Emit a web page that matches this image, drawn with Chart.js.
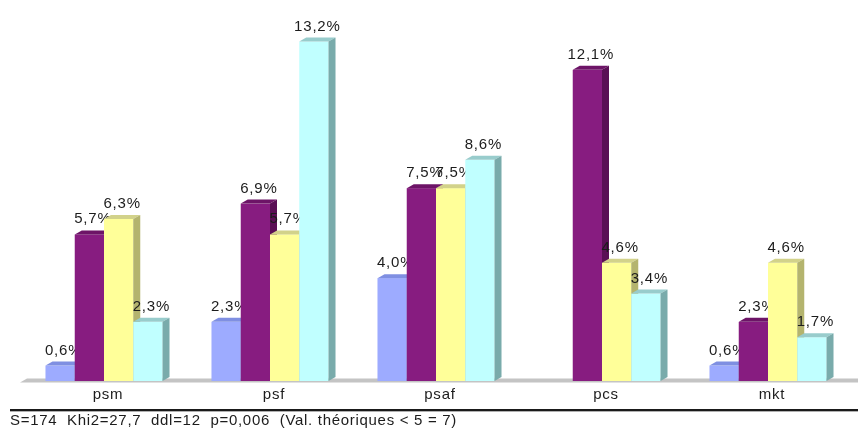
<!DOCTYPE html>
<html>
<head>
<meta charset="utf-8">
<script src="https://cdn.jsdelivr.net/npm/chart.js@4/dist/chart.umd.min.js"></script>
<style>
  html, body { margin: 0; padding: 0; background: #ffffff; }
  #wrap { width: 858px; height: 430px; position: relative; }
</style>
</head>
<body>
<div id="wrap"><canvas id="c" width="858" height="430"></canvas></div>
<script>
// Categories and the four series (percentages)
const categories = ['psm', 'psf', 'psaf', 'pcs', 'mkt'];
const serie1 = [0.6, 2.3, 4.0, 0, 0.6];
const serie2 = [5.7, 6.9, 7.5, 12.1, 2.3];
const serie3 = [6.3, 5.7, 7.5, 4.6, 4.6];
const serie4 = [2.3, 13.2, 8.6, 3.4, 1.7];
const footerText = 'S=174  Khi2=27,7  ddl=12  p=0,006  (Val. théoriques < 5 = 7)';

// Face colours for each series: front, top, side
const palette = [
  { front: '#9dabff', top: '#7f8fe2', side: '#6f7fc4' },
  { front: '#871c80', top: '#6d1467', side: '#5a0f55' },
  { front: '#ffff99', top: '#d2d28a', side: '#b4b46e' },
  { front: '#c0ffff', top: '#98cccc', side: '#79abab' }
];
const DX = 7, DY = 4;
const FONT = '"Liberation Sans", Arial, sans-serif';

const fmt = v => v.toFixed(1).replace('.', ',') + '%';

const bars3d = {
  id: 'bars3d',
  beforeDraw(chart) {
    chart.ctx.letterSpacing = '0.8px';
  },
  beforeDatasetsDraw(chart) {
    const { ctx, chartArea } = chart;
    const yb = chart.scales.y.getPixelForValue(0);
    // floor band
    ctx.save();
    ctx.fillStyle = '#c4c4c4';
    ctx.beginPath();
    ctx.moveTo(chartArea.left - 1, yb + 1.5);
    ctx.lineTo(chartArea.left - 1 + DX, yb + 1.5 - DY);
    ctx.lineTo(chart.width, yb + 1.5 - DY);
    ctx.lineTo(chart.width, yb + 1.5);
    ctx.closePath();
    ctx.fill();
    ctx.restore();
  },
  afterDatasetsDraw(chart) {
    const ctx = chart.ctx;
    ctx.save();
    ctx.font = '15px ' + FONT;
    ctx.letterSpacing = '0.8px';
    ctx.textAlign = 'center';
    ctx.textBaseline = 'alphabetic';
    for (let i = 0; i < categories.length; i++) {
      chart.data.datasets.forEach((ds, d) => {
        const v = ds.data[i];
        if (!v) return;
        const el = chart.getDatasetMeta(d).data[i];
        const x0 = el.x - el.width / 2, x1 = el.x + el.width / 2;
        const yt = el.y, yb = el.base;
        const c = palette[d];
        // front face
        ctx.fillStyle = c.front;
        ctx.fillRect(x0, yt, x1 - x0, yb - yt);
        // top face
        ctx.fillStyle = c.top;
        ctx.beginPath();
        ctx.moveTo(x0, yt);
        ctx.lineTo(x0 + DX, yt - DY);
        ctx.lineTo(x1 + DX, yt - DY);
        ctx.lineTo(x1, yt);
        ctx.closePath();
        ctx.fill();
        // side face
        ctx.fillStyle = c.side;
        ctx.beginPath();
        ctx.moveTo(x1, yt);
        ctx.lineTo(x1 + DX, yt - DY);
        ctx.lineTo(x1 + DX, yb - DY);
        ctx.lineTo(x1, yb);
        ctx.closePath();
        ctx.fill();
        // value label
        ctx.fillStyle = '#1c1c1c';
        ctx.fillText(fmt(v), el.x + DX / 2, yt - 11);
      });
    }
    ctx.restore();
  },
  afterDraw(chart) {
    const ctx = chart.ctx;
    ctx.save();
    ctx.fillStyle = '#1a1a1a';
    ctx.fillRect(10, 409, chart.width - 10, 2);
    ctx.fillStyle = '#b0b0b0';
    ctx.fillRect(10, 411, chart.width - 10, 1);
    ctx.font = '15px ' + FONT;
    ctx.letterSpacing = '0.7px';
    ctx.textAlign = 'left';
    ctx.textBaseline = 'alphabetic';
    ctx.fillStyle = '#1c1c1c';
    ctx.fillText(footerText, 10, 425);
    ctx.restore();
  }
};

const transparent = 'rgba(0,0,0,0)';
new Chart(document.getElementById('c'), {
  type: 'bar',
  data: {
    labels: categories,
    datasets: [serie1, serie2, serie3, serie4].map(s => ({
      data: s,
      backgroundColor: transparent,
      borderWidth: 0,
      categoryPercentage: 0.705,
      barPercentage: 1
    }))
  },
  options: {
    responsive: false,
    animation: false,
    layout: { padding: { left: 21, right: 7, top: 21, bottom: 0 } },
    plugins: { legend: { display: false }, tooltip: { enabled: false } },
    scales: {
      x: {
        grid: { display: false, drawTicks: false },
        border: { display: false },
        ticks: {
          color: '#1c1c1c',
          font: { family: FONT, size: 15 },
          padding: 5,
          labelOffset: 4
        },
        afterFit(scale) { scale.height = 49; }
      },
      y: {
        display: false,
        min: 0,
        max: 14
      }
    }
  },
  plugins: [bars3d]
});
</script>
</body>
</html>
